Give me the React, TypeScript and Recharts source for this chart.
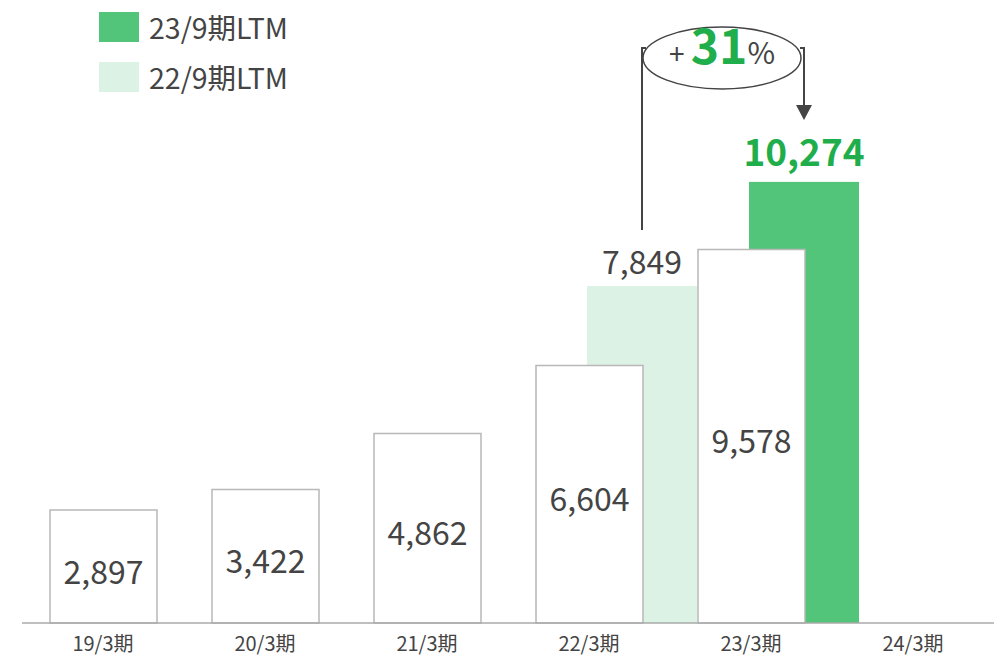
import { BarChart, Bar, XAxis, YAxis, Cell, LabelList } from "recharts"

const categories = ["19/3期", "20/3期", "21/3期", "22/3期", "23/3期", "24/3期"]
const annual = [2897, 3422, 4862, 6604, 9578, null]
const ltm = [null, null, null, 7849, 10274, null]
const ltmColors = ["#dcf2e4", "#dcf2e4", "#dcf2e4", "#dcf2e4", "#52c57a", "#52c57a"]
const legendItems = [
  { name: "23/9期LTM", color: "#52c57a" },
  { name: "22/9期LTM", color: "#dcf2e4" },
]
const growthLabel = "31"

const data = categories.map((c, i) => ({ cat: c, annual: annual[i], ltm: ltm[i] }))
const prevLtm = ltm.find((v) => v != null)

const FONT = '"Noto Sans CJK JP", "Noto Sans", sans-serif'
const TEXT = "#444"
const GREEN_TEXT = "#1fae4b"

const fmt = (v: number) => v.toLocaleString("en-US")

// LTM bars sit half a bar to the right of their category, behind the annual bar
const shiftOf = (w: number) => w / 2 - 2

function LtmShape(props: any) {
  const { x, y, width, height, fill } = props
  if (!height) return null
  return <rect x={x + shiftOf(width)} y={y} width={width} height={height} fill={fill} />
}

function AnnualLabel(props: any) {
  const { x, y, width, height, value } = props
  if (value == null) return null
  return (
    <text
      x={x + width / 2}
      y={y + height / 2 + 3}
      textAnchor="middle"
      dominantBaseline="central"
      fontSize={32}
      fill={TEXT}
      fontFamily={FONT}
    >
      {fmt(value)}
    </text>
  )
}

function LtmLabel(props: any) {
  const { x, y, width, value } = props
  if (value == null) return null
  const cx = x + width / 2 + shiftOf(width)
  if (value === prevLtm) {
    return (
      <g>
        <text x={cx} y={y - 26} textAnchor="middle" dominantBaseline="central" fontSize={32} fill={TEXT} fontFamily={FONT}>
          {fmt(value)}
        </text>
        <line x1={cx} y1={y - 56} x2={cx} y2={48} stroke={TEXT} strokeWidth={2} />
        <line x1={cx - 1} y1={48} x2={cx + 4} y2={48} stroke={TEXT} strokeWidth={2} />
      </g>
    )
  }
  const ox = cx - 82
  return (
    <g>
      <text x={cx} y={y - 32} textAnchor="middle" dominantBaseline="central" fontSize={37} fontWeight={700} fill={GREEN_TEXT} fontFamily={FONT}>
        {fmt(value)}
      </text>
      <ellipse cx={ox} cy={58} rx={79} ry={31} fill="#fff" stroke={TEXT} strokeWidth={1.5} />
      <line x1={cx - 4} y1={48} x2={cx + 1} y2={48} stroke={TEXT} strokeWidth={2} />
      <line x1={cx} y1={48} x2={cx} y2={106} stroke={TEXT} strokeWidth={2} />
      <polygon points={`${cx - 8},105 ${cx + 8},105 ${cx},120`} fill={TEXT} />
      <text x={ox} y={64} textAnchor="middle" fontFamily={FONT} fill={TEXT}>
        <tspan fontSize={28}>+ </tspan>
        <tspan fontSize={48} fontWeight={700} fill={GREEN_TEXT}>{growthLabel}</tspan>
        <tspan fontSize={30}>%</tspan>
      </text>
    </g>
  )
}

function CatTick(props: any) {
  const { x, y, payload } = props
  return (
    <text x={x} y={y + 11} textAnchor="middle" dominantBaseline="central" fontSize={20} fill={TEXT} fontFamily={FONT}>
      {payload.value}
    </text>
  )
}

export default function App() {
  return (
    <div style={{ position: "absolute", left: 0, top: 0, width: 1005, height: 657, background: "#fff", fontFamily: FONT }}>
      <BarChart
        width={1005}
        height={657}
        data={data}
        margin={{ top: 155, right: 11, bottom: 0, left: 22 }}
      >
        <XAxis
          xAxisId="main"
          dataKey="cat"
          height={34}
          tickLine={false}
          axisLine={{ stroke: "#aaa", strokeWidth: 1.5 }}
          tick={<CatTick />}
          interval={0}
        />
        <XAxis xAxisId="ltm" dataKey="cat" orientation="top" height={0} hide />
        <YAxis yAxisId="annual" domain={[0, 12000]} hide />
        <YAxis yAxisId="ltm" domain={[0, 10900]} hide />
        <Bar
          dataKey="ltm"
          xAxisId="ltm"
          yAxisId="ltm"
          barSize={110}
          shape={<LtmShape />}
          isAnimationActive={false}
        >
          {data.map((_, i) => (
            <Cell key={i} fill={ltmColors[i]} />
          ))}
          <LabelList dataKey="ltm" content={<LtmLabel />} />
        </Bar>
        <Bar
          dataKey="annual"
          xAxisId="main"
          yAxisId="annual"
          barSize={107}
          fill="#fff"
          stroke="#b8b8b8"
          strokeWidth={1.5}
          isAnimationActive={false}
        >
          <LabelList dataKey="annual" content={<AnnualLabel />} />
        </Bar>
      </BarChart>
      <div style={{ position: "absolute", left: 99, top: 12 }}>
        {legendItems.map((it) => (
          <div key={it.name} style={{ display: "flex", alignItems: "center", height: 30, marginBottom: 20 }}>
            <div style={{ width: 40, height: 30, background: it.color, marginRight: 10 }} />
            <span style={{ fontSize: 28.5, color: TEXT, lineHeight: "30px" }}>{it.name}</span>
          </div>
        ))}
      </div>
    </div>
  )
}
